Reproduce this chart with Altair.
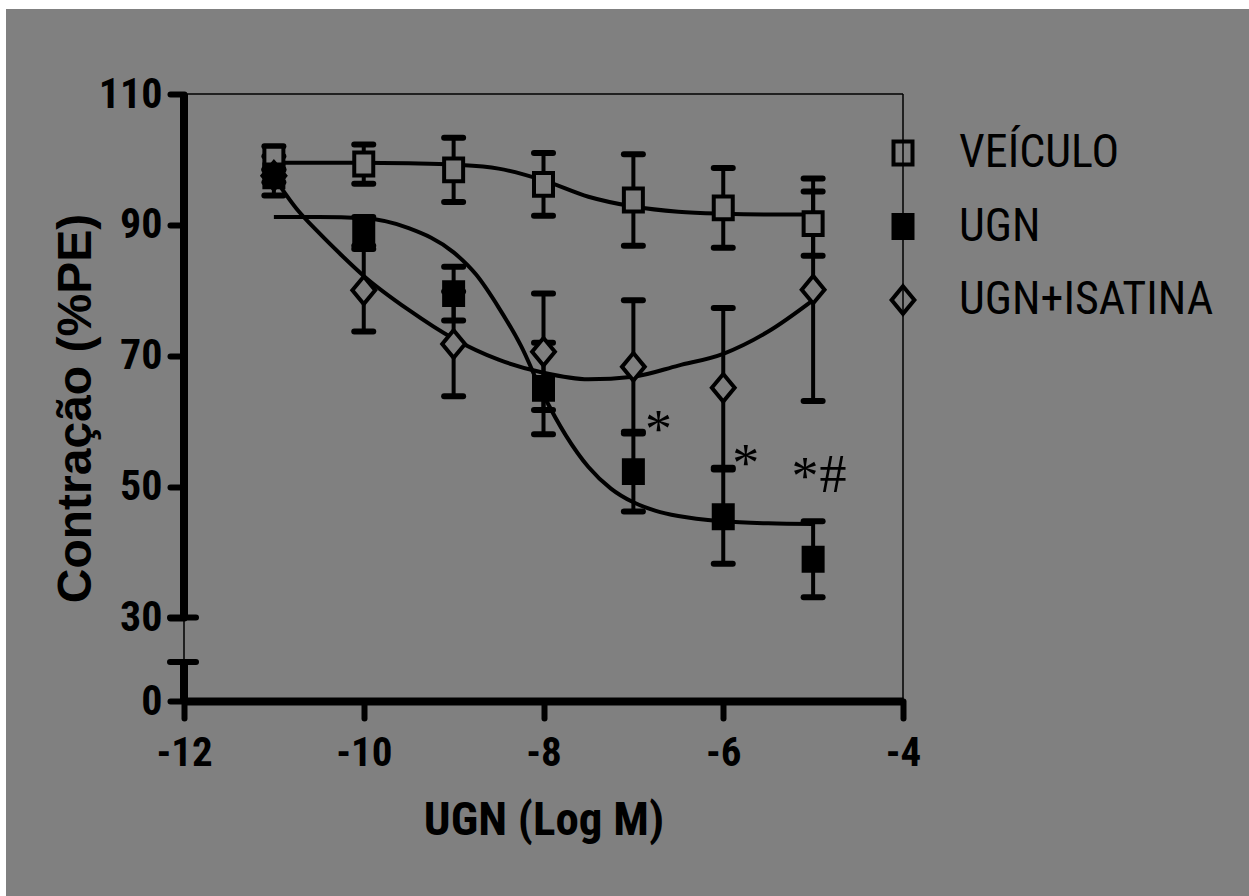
import altair as alt
import pandas as pd

# ---------------- data ----------------
doses = [-11, -10, -9, -8, -7, -6, -5]
series_names = ["VEÍCULO", "UGN", "UGN+ISATINA"]

veh_mean = [100.2, 99.3, 98.4, 96.2, 93.8, 92.6, 90.2]
veh_sem = [1.8, 3.0, 4.9, 4.8, 7.0, 6.1, 4.9]
ugn_mean = [97.5, 89.0, 79.5, 65.0, 52.3, 45.4, 38.9]
ugn_sem = [3.0, 2.2, 4.1, 7.0, 6.1, 7.2, 5.8]
isa_mean = [97.5, 80.0, 71.8, 70.6, 68.3, 65.1, 80.1]
isa_sem = [1.0, 6.3, 8.0, 8.9, 10.2, 12.2, 17.0]

# fitted curves
veh_curve_x = [-11, -10.5, -10, -9.5, -9, -8.5, -8, -7.5, -7, -6.5, -6, -5.5, -5]
veh_curve_y = [99.5, 99.5, 99.5, 99.4, 99.2, 98.6, 96.8, 94.3, 92.8, 92.0, 91.7, 91.6, 91.6]
ugn_curve_x = [-11, -10.5, -10, -9.5, -9, -8.75, -8.5, -8.25, -8, -7.75, -7.5, -7.25, -7,
               -6.75, -6.5, -6, -5.5, -5]
ugn_curve_y = [91.2, 91.2, 91.0, 89.5, 85.8, 82.4, 77.4, 71.5, 64.0, 57.8, 53.0, 49.7, 47.6,
               46.3, 45.5, 44.7, 44.4, 44.3]
isa_curve_x = [-11, -10.75, -10.5, -10.25, -10, -9.5, -9, -8.5, -8, -7.5, -7, -6.5, -6, -5.5, -5]
isa_curve_y = [97.3, 92.5, 88.8, 85.4, 82.2, 77.0, 72.6, 69.4, 67.4, 66.4, 66.8, 68.5, 70.3,
               73.7, 78.5]

# significance marks
note_x = [-6.72, -5.75, -5.09, -4.78]
note_y = [56.1, 50.9, 48.9, 49.2]
note_text = ["*", "*", "*", "#"]

x_ticks = [-12, -10, -8, -6, -4]
y_ticks = [0, 30, 50, 70, 90, 110]
y_break = 14

# ---------------- tables ----------------
rows = []
for name, m, s in zip(series_names, [veh_mean, ugn_mean, isa_mean], [veh_sem, ugn_sem, isa_sem]):
    for d, mv, sv in zip(doses, m, s):
        rows.append({"series": name, "x": d, "mean": mv, "lo": mv - sv, "hi": mv + sv})
pts = pd.DataFrame(rows)

caps = pd.concat([
    pts[["series", "x"]].assign(v=pts["lo"]),
    pts[["series", "x"]].assign(v=pts["hi"]),
])

curve_rows = []
for name, cx, cy in zip(series_names, [veh_curve_x, ugn_curve_x, isa_curve_x],
                        [veh_curve_y, ugn_curve_y, isa_curve_y]):
    for a, b in zip(cx, cy):
        curve_rows.append({"series": name, "x": a, "mean": b})
curves = pd.DataFrame(curve_rows)

notes = pd.DataFrame({"x": note_x, "mean": note_y, "t": note_text})
one = pd.DataFrame({"a": [0]})

# ---------------- styling ----------------
GRAY = "#808080"
RC = "Roboto Condensed, Liberation Sans Narrow, Liberation Sans, sans-serif"
RECT = "M-1,-1.2L1,-1.2L1,1.2L-1,1.2Z"
DIAM = "M0,-1.45L1.2,0L0,1.45L-1.2,0Z"

xs = alt.Scale(domain=[-12, -4], nice=False, zero=False)
ys = alt.Scale(domain=[0, 30, 110], range=[607, 523.5, 0], nice=False, zero=False)

x_axis = alt.Axis(values=x_ticks, labelExpr="'' + datum.value", title="UGN (Log M)",
                  grid=False, domain=True, domainColor="black", domainWidth=8,
                  ticks=True, tickColor="black", tickWidth=6, tickSize=17, tickCap="round",
                  labelFont=RC, labelFontSize=41, labelFontWeight="bold", labelColor="black",
                  labelPadding=15, labelFlush=False, labelOverlap=False,
                  titleFont=RC, titleFontSize=47, titleFontWeight="bold", titleColor="black",
                  titlePadding=24, zindex=1)
y_axis = alt.Axis(values=y_ticks, labelExpr="'' + datum.value", title="Contração (%PE)",
                  grid=False, domain=False,
                  ticks=True, tickColor="black", tickWidth=6, tickSize=14, tickCap="round",
                  labelFont=RC, labelFontSize=42, labelFontWeight="bold", labelColor="black",
                  labelPadding=8, labelFlush=False, labelOverlap=False,
                  titleFont="Liberation Sans", titleFontSize=48, titleFontWeight="bold",
                  titleColor="black", titleAngle=270, titleX=-94, titleY=314,
                  titleAlign="center", titleBaseline="alphabetic", zindex=1)


def X(field="x"):
    return alt.X(f"{field}:Q", scale=xs, axis=x_axis)


def Y(field="mean"):
    return alt.Y(f"{field}:Q", scale=ys, axis=y_axis)


legend = alt.Legend(title=None, orient="none", legendX=696, legendY=36, padding=0,
                    labelFont=RC, labelFontSize=46, labelColor="black", labelLimit=500,
                    labelOffset=33, symbolSize=361, symbolStrokeWidth=4,
                    rowPadding=27.5, zindex=1)

# background panel (gray area with thin white strip at left/top)
bg = alt.Chart(one).mark_rect(color=GRAY).encode(
    x=alt.value(-178), x2=alt.value(1065), y=alt.value(-85), y2=alt.value(802))

# thin frame
frame_top = alt.Chart(one).mark_rule(color="black", strokeWidth=1.5).encode(
    x=alt.datum(-12, scale=xs), x2=alt.datum(-4), y=alt.datum(110, scale=ys))
frame_right = alt.Chart(one).mark_rule(color="black", strokeWidth=1.5).encode(
    x=alt.datum(-4, scale=xs), y=alt.datum(0, scale=ys), y2=alt.datum(110))
frame_left = alt.Chart(one).mark_rule(color="black", strokeWidth=1.5).encode(
    x=alt.datum(-12, scale=xs), y=alt.datum(0, scale=ys), y2=alt.datum(110))

# thick y-axis segments (broken axis)
seg_top = alt.Chart(one).mark_rule(color="black", strokeWidth=8).encode(
    x=alt.datum(-12, scale=xs), y=alt.datum(110, scale=ys), y2=alt.datum(30))
seg_bot = alt.Chart(one).mark_rule(color="black", strokeWidth=8).encode(
    x=alt.datum(-12, scale=xs), y=alt.datum(y_break, scale=ys), y2=alt.datum(0))
brk = alt.Chart(pd.DataFrame({"v": [30, y_break]})).mark_rule(
    color="black", strokeWidth=6, strokeCap="round").encode(
    x=alt.value(-14), x2=alt.value(12), y=alt.Y("v:Q", scale=ys, axis=y_axis))

lines = alt.Chart(curves).mark_line(color="black", strokeWidth=4, interpolate="monotone").encode(
    x=X(), y=Y(), detail="series:N")

err = alt.Chart(pts).mark_rule(color="black", strokeWidth=4).encode(
    x=X(), y=Y("lo"), y2="hi:Q")
cap = alt.Chart(caps).mark_rule(color="black", strokeWidth=6, strokeCap="round",
                                xOffset=-9.5, x2Offset=9.5).encode(
    x=X(), x2="x:Q", y=Y("v"))

knock_sq = alt.Chart(pts[pts.series == "VEÍCULO"]).mark_point(
    shape=RECT, size=361, filled=True, fill=GRAY, strokeWidth=0, opacity=1).encode(x=X(), y=Y())
knock_di = alt.Chart(pts[pts.series == "UGN+ISATINA"]).mark_point(
    shape=DIAM, size=361, filled=True, fill=GRAY, strokeWidth=0, opacity=1).encode(x=X(), y=Y())

marks = alt.Chart(pts).mark_point(filled=True, strokeWidth=4, opacity=1, size=361).encode(
    x=X(), y=Y(),
    shape=alt.Shape("series:N", scale=alt.Scale(domain=series_names, range=[RECT, RECT, DIAM]),
                    legend=legend),
    fill=alt.Fill("series:N", scale=alt.Scale(domain=series_names,
                                              range=["transparent", "black", "transparent"]),
                  legend=legend),
    stroke=alt.Stroke("series:N", scale=alt.Scale(domain=series_names,
                                                  range=["black", "black", "black"]),
                      legend=legend),
)

txt = alt.Chart(notes).mark_text(font="Liberation Serif", fontSize=54, color="black",
                                 align="center", baseline="alphabetic").encode(
    x=X(), y=Y(), text="t:N")

chart = alt.layer(
    bg, frame_left, frame_top, frame_right, lines, err, cap, knock_sq, knock_di, marks,
    seg_top, seg_bot, brk, txt
).properties(
    width=719, height=607,
    background="white",
    padding={"left": 6, "top": 9, "right": 0, "bottom": 0},
).configure_view(stroke=None)

chart.save("out.html", embed_options={"renderer": "svg", "actions": False})
